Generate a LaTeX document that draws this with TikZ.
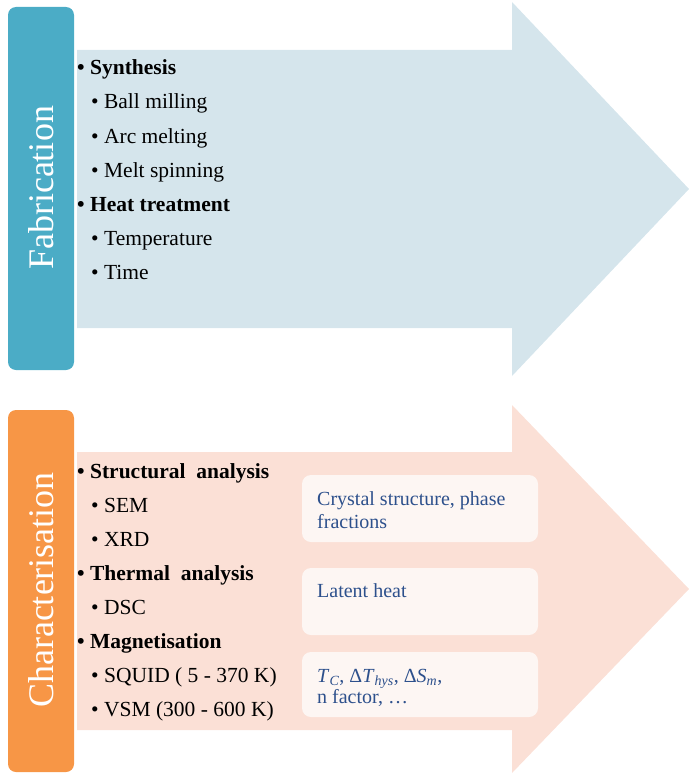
\documentclass[tikz,border=0pt]{standalone}
\usepackage{fontspec}
\setmainfont{Liberation Serif}
\usepackage{tikz}

\definecolor{fabteal}{RGB}{75,172,198}
\definecolor{fabarrow}{RGB}{213,229,236}
\definecolor{charorange}{RGB}{247,150,70}
\definecolor{chararrow}{RGB}{251,224,214}
\definecolor{resbox}{RGB}{253,246,243}
\definecolor{restext}{RGB}{45,80,140}

\tikzset{
  tabbox/.style={rounded corners=8pt},
  tabtext/.style={rotate=90, anchor=base, inner sep=0pt, text=white, font=\fontsize{36}{40}\selectfont},
  listhead/.style={anchor=base west, inner sep=0pt, font=\fontsize{21.5}{26}\selectfont\bfseries},
  listitem/.style={anchor=base west, inner sep=0pt, font=\fontsize{21.5}{26}\selectfont},
  resframe/.style={fill=resbox, rounded corners=9pt},
  restxt/.style={anchor=base west, inner sep=0pt, text=restext, font=\fontsize{20}{24}\selectfont}
}

\begin{document}
\begin{tikzpicture}[x=1pt,y=-1pt]
      \useasboundingbox (0,0) rectangle (689,773);
      % fabrication
      \fill[fabarrow] (77,50) -- (512,50) -- (512,2) -- (689,189) -- (512,376) -- (512,328) -- (77,328) -- cycle;
      \fill[fabteal,tabbox] (8,7) rectangle (74,370);
      \node[tabtext] (fablabel) at (53,188) {Fabrication};
      \node[listhead] (synth) at (77,75) {\textbullet\ Synthesis};
      \node[listitem] (ball) at (91,109) {\textbullet\ Ball milling};
      \node[listitem] (arc) at (91,143) {\textbullet\ Arc melting};
      \node[listitem] (melt) at (91,177) {\textbullet\ Melt spinning};
      \node[listhead] (heat) at (77,211) {\textbullet\ Heat treatment};
      \node[listitem] (temp) at (91,245) {\textbullet\ Temperature};
      \node[listitem] (time) at (91,279) {\textbullet\ Time};
      % characterisation
      \fill[chararrow] (77,452) -- (512,452) -- (512,405) -- (689,589) -- (512,773) -- (512,730) -- (77,730) -- cycle;
      \fill[charorange,tabbox] (8,410) rectangle (74,772);
      \node[tabtext] (charlabel) at (53,590) {Characterisation};
      \node[listhead] (struct) at (77,478) {\textbullet\ Structural~ analysis};
      \node[listitem] (sem) at (91,512) {\textbullet\ SEM};
      \node[listitem] (xrd) at (91,546) {\textbullet\ XRD};
      \node[listhead] (therm) at (77,580) {\textbullet\ Thermal~ analysis};
      \node[listitem] (dsc) at (91,614) {\textbullet\ DSC};
      \node[listhead] (magn) at (77,648) {\textbullet\ Magnetisation};
      \node[listitem] (squid) at (91,682) {\textbullet\ SQUID ( 5 - 370 K)};
      \node[listitem] (vsm) at (91,716) {\textbullet\ VSM (300 - 600 K)};
      % results
      \fill[resframe] (302,475) rectangle (538,542);
      \fill[resframe] (302,568) rectangle (538,635);
      \fill[resframe] (302,652) rectangle (538,717);
      \node[restxt] (cryst) at (317,505) {Crystal structure, phase};
      \node[restxt] (fract) at (317,528) {fractions};
      \node[restxt] (latent) at (317,597) {Latent heat};
      \node[restxt] (props) at (317,682) {\textit{T}\textsubscript{\textit{C}}, Δ\textit{T}\textsubscript{\textit{hys}}, Δ\textit{S}\textsubscript{\textit{m}},};
      \node[restxt] (nfact) at (317,703) {n factor, …};
\end{tikzpicture}
\end{document}
